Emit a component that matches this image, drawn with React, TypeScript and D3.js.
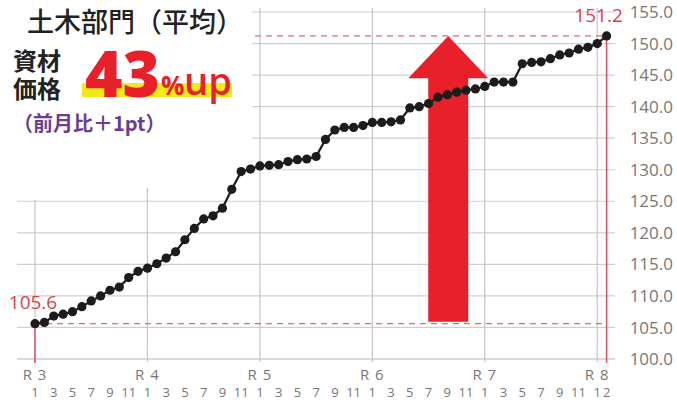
import React from 'react';
import * as d3 from 'd3';

// 建設資材物価指数 土木部門(平均), R3.1 = first point
const years = ['R 3', 'R 4', 'R 5', 'R 6', 'R 7', 'R 8'];
const monthLabels = [1, 3, 5, 7, 9, 11];
const lastYearMonths = [1, 2];
const yTicks = [100, 105, 110, 115, 120, 125, 130, 135, 140, 145, 150, 155];

const r3 = [105.6, 105.8, 106.8, 107.1, 107.5, 108.3, 109.2, 110.0, 110.9, 111.4, 112.9, 113.9];
const r4 = [114.4, 115.1, 116.0, 117.0, 118.9, 120.7, 122.2, 122.7, 123.9, 126.9, 129.7, 130.1];
const r5 = [130.6, 130.7, 130.8, 131.3, 131.6, 131.7, 132.1, 134.8, 136.3, 136.7, 136.7, 137.0];
const r6 = [137.5, 137.5, 137.6, 137.9, 139.8, 140.0, 140.5, 141.5, 141.9, 142.3, 142.6, 142.8];
const r7 = [143.2, 143.9, 143.9, 143.9, 146.8, 147.0, 147.1, 147.6, 148.2, 148.5, 149.1, 149.4];
const r8 = [150.0, 151.2];

const values = [...r3, ...r4, ...r5, ...r6, ...r7, ...r8];

const W = 677;
const H = 405;
const RED = '#e8202a';
const NUM_FONT = '"Open Sans", "Noto Sans", sans-serif';
const JP_FONT = '"Noto Sans CJK JP", "Noto Sans", sans-serif';

export default function App() {
  const n = values.length;
  const x = d3.scaleLinear().domain([0, n - 1]).range([35, 606.6]);
  const y = d3.scaleLinear().domain([100, 155]).range([359, 12]);

  const first = values[0];
  const last = values[n - 1];

  const line = d3.line<number>()
    .x((_, i) => x(i))
    .y(d => y(d));

  // month tick labels under each year
  const ticks: { i: number; label: string }[] = [];
  years.forEach((_, yi) => {
    const months = yi === years.length - 1 ? lastYearMonths : monthLabels;
    months.forEach(m => ticks.push({ i: yi * 12 + m - 1, label: String(m) }));
  });

  // the big arrow, from first to last value
  const ax = x(44.1);
  const headY = y(144.5);
  const arrow = [
    [ax - 20, y(first) - 2],
    [ax - 20, headY],
    [ax - 40, headY],
    [ax, y(last)],
    [ax + 40, headY],
    [ax + 20, headY],
    [ax + 20, y(first) - 2],
  ];

  return (
    <svg width={W} height={H} style={{ position: 'absolute', left: 0, top: 0, background: '#fff' }}>
      {/* grid */}
      {yTicks.map(t => (
        <line key={t} x1={17} x2={615} y1={y(t)} y2={y(t)}
          stroke={t === 100 ? '#b5b5b5' : '#cfcfcf'} strokeWidth={1.2} />
      ))}
      {years.map((_, yi) => (
        <line key={yi} x1={x(yi * 12)} x2={x(yi * 12)} y1={8} y2={362} stroke="#c4c4c4" strokeWidth={1.2} />
      ))}

      {/* reference lines */}
      <line x1={x(0)} x2={x(n - 1)} y1={y(first)} y2={y(first)} stroke="#e06a78" strokeWidth={1.3} strokeDasharray="6 5" />
      <line x1={x(0)} x2={x(n - 1)} y1={y(last)} y2={y(last)} stroke="#e06a78" strokeWidth={1.3} strokeDasharray="6 5" />
      <line x1={x(0)} x2={x(0)} y1={y(first)} y2={363} stroke="#e0505f" strokeWidth={1.5} />
      <line x1={x(n - 1)} x2={x(n - 1)} y1={y(last)} y2={363} stroke="#e0505f" strokeWidth={1.5} />

      {/* title box */}
      <rect x={0} y={0} width={252} height={188} fill="#fff" />
      <rect x={0} y={188} width={40} height={12} fill="#fff" />

      <polygon points={arrow.map(p => p.join(',')).join(' ')} fill={RED} />

      <path d={line(values) ?? ''} fill="none" stroke="#1c1c1c" strokeWidth={2.2} />
      {values.map((v, i) => (
        <circle key={i} cx={x(i)} cy={y(v)} r={4.6} fill="#1c1c1c" />
      ))}

      {/* value callouts */}
      <text x={x(0) - 2} y={y(first) - 15} textAnchor="middle" fill="#d9404f" fontFamily={NUM_FONT} fontSize={19}>
        {first.toFixed(1)}
      </text>
      <text x={x(n - 1) - 8} y={22} textAnchor="middle" fill="#d9404f" fontFamily={NUM_FONT} fontSize={19}>
        {last.toFixed(1)}
      </text>

      {/* right axis */}
      {yTicks.map(t => (
        <text key={t} x={673} y={y(t)} dy="0.36em" textAnchor="end" fill="#777" fontFamily={NUM_FONT} fontSize={17}>
          {t.toFixed(1)}
        </text>
      ))}

      {/* bottom axis */}
      {years.map((yr, yi) => (
        <text key={yr} x={x(yi * 12)} y={380} textAnchor="middle" fill="#777" fontFamily={NUM_FONT} fontSize={15}
          letterSpacing={1}>
          {yr}
        </text>
      ))}
      {ticks.map(t => (
        <text key={t.i} x={x(t.i)} y={397} textAnchor="middle" fill="#777" fontFamily={NUM_FONT} fontSize={13}>
          {t.label}
        </text>
      ))}

      {/* headline */}
      <text x={27} y={32} fill="#222" fontFamily={JP_FONT} fontSize={27} fontWeight={500}>
        土木部門（平均）
      </text>
      <text x={13} y={70} fill="#222" fontFamily={JP_FONT} fontSize={24} fontWeight={700}>資材</text>
      <text x={13} y={98} fill="#222" fontFamily={JP_FONT} fontSize={24} fontWeight={700}>価格</text>
      <rect x={82} y={83} width={150} height={14} fill="#f3ea1c" />
      <text x={85} y={97} fill={RED} fontFamily={NUM_FONT} fontSize={64} fontWeight={800}>43</text>
      <text x={161} y={95} fill={RED} fontFamily={NUM_FONT} fontSize={26} fontWeight={700}>%</text>
      <text x={184} y={95} fill={RED} fontFamily={NUM_FONT} fontSize={38} fontWeight={600}>up</text>
      <text x={13} y={131} fill="#6a3d92" fontFamily={JP_FONT} fontSize={20} fontWeight={700}>
        （前月比＋1pt）
      </text>
    </svg>
  );
}
